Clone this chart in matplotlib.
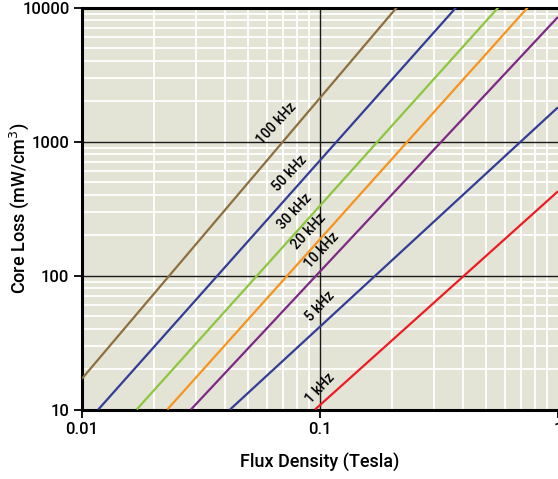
import matplotlib
matplotlib.use("Agg")
import matplotlib.pyplot as plt
from matplotlib.ticker import LogLocator, FixedLocator, NullFormatter, FixedFormatter

plt.rcParams['font.family'] = ['Liberation Sans Narrow', 'Roboto', 'DejaVu Sans']

# Frequencies and line colours
labels = ["100 kHz", "50 kHz", "30 kHz", "20 kHz", "10 kHz", "5 kHz", "1 kHz"]
colors = ["#8E6F3E", "#333D95", "#8DC63F", "#F7941D", "#7D2A85", "#333D95", "#ED1C24"]

# Each line is straight on log-log axes: start / end points
B_start = [0.0100, 0.01171, 0.01697, 0.02283, 0.0287, 0.0419, 0.0953]   # Tesla
P_start = [17.0, 10.0, 10.0, 10.0, 10.0, 10.0, 10.0]                    # mW/cm3
B_end = [0.210, 0.373, 0.561, 0.746, 1.0, 1.0, 1.0]
P_end = [10000.0, 10000.0, 10000.0, 10000.0, 8500.0, 1800.0, 425.0]

# Label anchor points (data coordinates)
lab_B = [0.0657, 0.0748, 0.0785, 0.0902, 0.1016, 0.100, 0.100]
lab_P = [1368, 582, 299, 212, 155, 58.5, 14.4]

x_ticks = [0.01, 0.1, 1]
x_ticklabels = ["0.01", "0.1", "1"]
y_ticks = [10, 100, 1000, 10000]
y_ticklabels = ["10", "100", "1000", "10000"]

W, H = 558, 479
fig = plt.figure(figsize=(W / 100, H / 100), dpi=100)
ax = fig.add_axes([82 / W, 1 - 409.5 / H, (558 - 82) / W, (409.5 - 7.5) / H])
ax.set_facecolor("#E3E3D6")
ax.set_xscale("log")
ax.set_yscale("log")
ax.set_xlim(0.01, 1)
ax.set_ylim(10, 10000)

# grid: white minor lines, dark major lines
ax.xaxis.set_minor_locator(LogLocator(base=10, subs=range(2, 10)))
ax.yaxis.set_minor_locator(LogLocator(base=10, subs=range(2, 10)))
ax.xaxis.set_minor_formatter(NullFormatter())
ax.yaxis.set_minor_formatter(NullFormatter())
ax.grid(which="minor", color="white", linewidth=1.3, zorder=0)
ax.set_axisbelow(True)
for v in [0.1]:
    ax.axvline(v, color="#1a1a1a", linewidth=1.0, zorder=1)
for v in [100, 1000]:
    ax.axhline(v, color="#1a1a1a", linewidth=1.0, zorder=1)

ax.xaxis.set_major_locator(FixedLocator(x_ticks))
ax.xaxis.set_major_formatter(FixedFormatter(x_ticklabels))
ax.yaxis.set_major_locator(FixedLocator(y_ticks))
ax.yaxis.set_major_formatter(FixedFormatter(y_ticklabels))
ax.tick_params(which="major", direction="out", length=6, width=1.3, labelsize=12, pad=3, colors="black")
ax.tick_params(which="minor", length=0)
for t in ax.get_xticklabels() + ax.get_yticklabels():
    t.set_fontweight("medium")

for s in ["left", "bottom", "top"]:
    ax.spines[s].set_linewidth(2.2)
    ax.spines[s].set_color("black")
ax.spines["right"].set_visible(False)

for lab, c, b0, p0, b1, p1, lb, lp in zip(labels, colors, B_start, P_start, B_end, P_end, lab_B, lab_P):
    ax.plot([b0, b1], [p0, p1], color=c, linewidth=1.6, solid_capstyle="butt", zorder=3, clip_on=True)
    ax.text(lb, lp, lab, rotation=47, ha="center", va="center", fontsize=10,
            fontweight="medium", color="black", zorder=4, rotation_mode="anchor")

ax.set_xlabel("Flux Density (Tesla)", fontsize=13, fontweight="medium", va="center")
ax.set_ylabel("Core Loss (mW/cm$^3$)", fontsize=13, fontweight="medium", va="center")
ax.xaxis.set_label_coords(0.5, (409.5 - 463) / 402)
ax.yaxis.set_label_coords((19 - 82) / 476, 0.5)

fig.savefig("out.png", dpi=100)
